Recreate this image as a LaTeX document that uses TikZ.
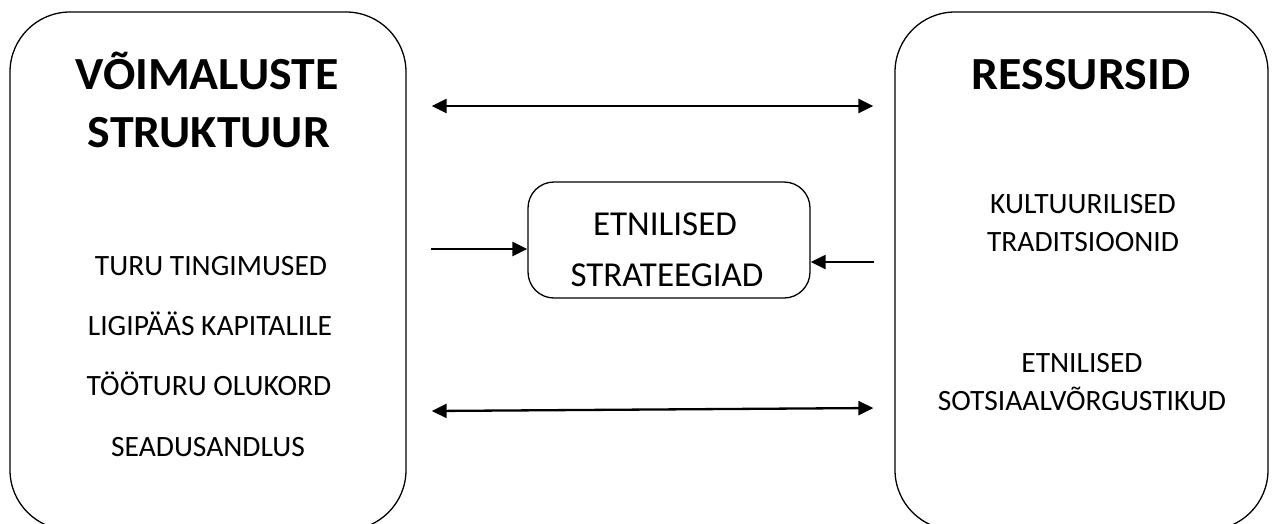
\documentclass[tikz,border=0pt]{standalone}
\usepackage{fontspec}
\setmainfont{Carlito}
\usetikzlibrary{arrows.meta}
\newcommand{\widehead}[1]{\scalebox{1.04}[1]{#1}}
\begin{document}
\begin{tikzpicture}[x=1pt,y=-1pt,
  bigbox/.style={draw, line width=1.3pt, rounded corners=60pt, minimum width=396pt, minimum height=518pt, inner sep=0pt},
  midbox/.style={draw, line width=1.3pt, rounded corners=26pt, minimum width=282pt, minimum height=116pt, inner sep=0pt},
  headline/.style={font=\fontsize{46}{54}\selectfont\bfseries, anchor=base, inner sep=0pt},
  item/.style={font=\fontsize{29.5}{34}\selectfont, anchor=base, inner sep=0pt},
  midtext/.style={font=\fontsize{35}{40}\selectfont, anchor=base, inner sep=0pt},
  tip/.tip={Triangle[length=15pt,width=14pt]},
  link/.style={line width=2.3pt, tip-tip},
  feed/.style={line width=2.3pt, -tip}
]
\useasboundingbox (0,0) rectangle (1274,523);
\clip (0,0) rectangle (1274,523);

% the three boxes
\node[bigbox] (opp) at (208,271) {};
\node[bigbox, minimum width=373pt] (res) at (1081.5,271) {};
\node[midbox] (strat) at (669,240) {};

% left box texts
\node[headline] (oppA) at (207,89) {\widehead{VÕIMALUSTE}};
\node[headline] (oppB) at (209,147) {\widehead{STRUKTUUR}};
\node[item] (opp1) at (211,275) {TURU TINGIMUSED};
\node[item] (opp2) at (210,335) {LIGIPÄÄS KAPITALILE};
\node[item] (opp3) at (209,395) {TÖÖTURU OLUKORD};
\node[item] (opp4) at (208,456) {SEADUSANDLUS};

% right box texts
\node[headline] (resA) at (1081,89) {\widehead{RESSURSID}};
\node[item] (res1) at (1083,213) {KULTUURILISED};
\node[item] (res2) at (1083,251) {TRADITSIOONID};
\node[item] (res3) at (1082,372) {ETNILISED};
\node[item] (res4) at (1082,410) {SOTSIAALVÕRGUSTIKUD};

% middle box text
\node[midtext] (stratA) at (665,235) {ETNILISED};
\node[midtext] (stratB) at (667,286) {STRATEEGIAD};

% free ends of the connectors
\coordinate (topL) at ([xshift=25pt]opp.east |- 0,106);
\coordinate (topR) at ([xshift=-21pt]res.west |- 0,106);
\coordinate (botL) at ([xshift=25pt]opp.east |- 0,411);
\coordinate (botR) at ([xshift=-21pt]res.west |- 0,408);
\coordinate (inL) at ([xshift=24pt]opp.east |- 0,249);
\coordinate (inR) at ([xshift=-20pt]res.west |- 0,262);

% connectors
\draw[link] (topL) -- (topR);
\draw[link] (botL) -- (botR);
\draw[feed] (inL) -- (strat.west |- inL);
\draw[feed] (inR) -- (strat.east |- inR);
\end{tikzpicture}
\end{document}
